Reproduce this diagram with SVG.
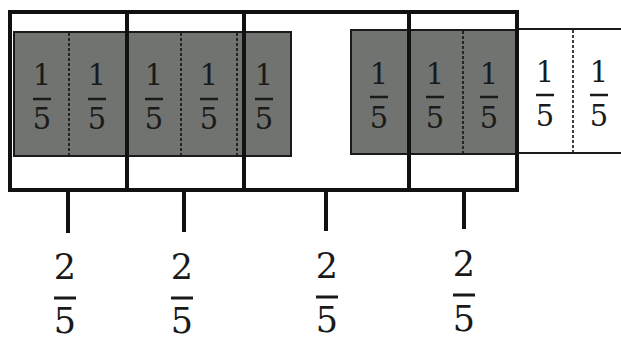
<svg xmlns="http://www.w3.org/2000/svg" width="621" height="340" viewBox="0 0 621 340">
<style>
.shade{fill:#707370;stroke:#1a1a1a;stroke-width:2}
.white{fill:#fff;stroke:#1a1a1a;stroke-width:2}
.frame{fill:none;stroke:#111;stroke-width:4}
.div{stroke:#111;stroke-width:4}
.dash{stroke:#111;stroke-width:1.6;stroke-dasharray:3 2}
.tick{stroke:#111;stroke-width:4}
.f{font-family:"DejaVu Serif","Liberation Serif",serif;font-size:29px;fill:#1a1a1a;text-anchor:middle}
.fb{font-family:"DejaVu Serif","Liberation Serif",serif;font-size:35px;fill:#1a1a1a;text-anchor:middle}
.bar{stroke:#1a1a1a;stroke-width:2.5}
.barb{stroke:#1a1a1a;stroke-width:3}
</style>
<rect width="621" height="340" fill="#fff"/>
<g id="strip1">
<rect class="shade" x="14" y="32" width="277" height="124"/>
<line class="dash" x1="69" y1="33" x2="69" y2="155"/>
<line class="dash" x1="181" y1="33" x2="181" y2="155"/>
<line class="dash" x1="237" y1="33" x2="237" y2="155"/>
</g>
<g id="strip2">
<rect class="shade" x="351" y="30" width="167" height="124"/>
<line class="dash" x1="463" y1="31" x2="463" y2="153"/>
</g>
<g id="whitecells">
<path class="white" d="M518 29 H622 M518 153 H622" fill="none"/>
<line class="dash" x1="573" y1="30" x2="573" y2="152"/>
</g>
<g id="frame">
<rect class="frame" x="10" y="12" width="507" height="178"/>
<line class="div" x1="127" y1="12" x2="127" y2="190"/>
<line class="div" x1="244" y1="12" x2="244" y2="190"/>
<line class="div" x1="409" y1="12" x2="409" y2="190"/>
</g>
<g id="fractions">
<g id="f1"><text class="f" x="42" y="85">1</text><line class="bar" x1="33" y1="99" x2="51" y2="99"/><text class="f" x="42" y="129">5</text></g>
<g id="f2"><text class="f" x="97" y="85">1</text><line class="bar" x1="88" y1="99" x2="106" y2="99"/><text class="f" x="97" y="129">5</text></g>
<g id="f3"><text class="f" x="154" y="85">1</text><line class="bar" x1="145" y1="99" x2="163" y2="99"/><text class="f" x="154" y="129">5</text></g>
<g id="f4"><text class="f" x="209" y="85">1</text><line class="bar" x1="200" y1="99" x2="218" y2="99"/><text class="f" x="209" y="129">5</text></g>
<g id="f5"><text class="f" x="264" y="85">1</text><line class="bar" x1="255" y1="99" x2="273" y2="99"/><text class="f" x="264" y="129">5</text></g>
<g id="f6"><text class="f" x="379" y="84">1</text><line class="bar" x1="370" y1="97" x2="388" y2="97"/><text class="f" x="379" y="128">5</text></g>
<g id="f7"><text class="f" x="435" y="84">1</text><line class="bar" x1="426" y1="97" x2="444" y2="97"/><text class="f" x="435" y="128">5</text></g>
<g id="f8"><text class="f" x="489" y="84">1</text><line class="bar" x1="480" y1="97" x2="498" y2="97"/><text class="f" x="489" y="128">5</text></g>
<g id="f9"><text class="f" x="545" y="82">1</text><line class="bar" x1="536" y1="95" x2="554" y2="95"/><text class="f" x="545" y="126">5</text></g>
<g id="f10"><text class="f" x="599" y="82">1</text><line class="bar" x1="590" y1="95" x2="608" y2="95"/><text class="f" x="599" y="126">5</text></g>
</g>
<g id="connectors">
<line class="tick" x1="68" y1="190" x2="68" y2="233"/>
<line class="tick" x1="184" y1="190" x2="184" y2="232"/>
<line class="tick" x1="326" y1="190" x2="326" y2="231"/>
<line class="tick" x1="464" y1="190" x2="464" y2="229"/>
</g>
<g id="labels">
<g id="l1"><text class="fb" x="65" y="279">2</text><line class="barb" x1="54" y1="298" x2="76" y2="298"/><text class="fb" x="65" y="333">5</text></g>
<g id="l2"><text class="fb" x="182" y="279">2</text><line class="barb" x1="171" y1="298" x2="193" y2="298"/><text class="fb" x="182" y="333">5</text></g>
<g id="l3"><text class="fb" x="327" y="278">2</text><line class="barb" x1="316" y1="297" x2="338" y2="297"/><text class="fb" x="327" y="332">5</text></g>
<g id="l4"><text class="fb" x="464" y="276">2</text><line class="barb" x1="453" y1="295" x2="475" y2="295"/><text class="fb" x="464" y="331">5</text></g>
</g>
</svg>
